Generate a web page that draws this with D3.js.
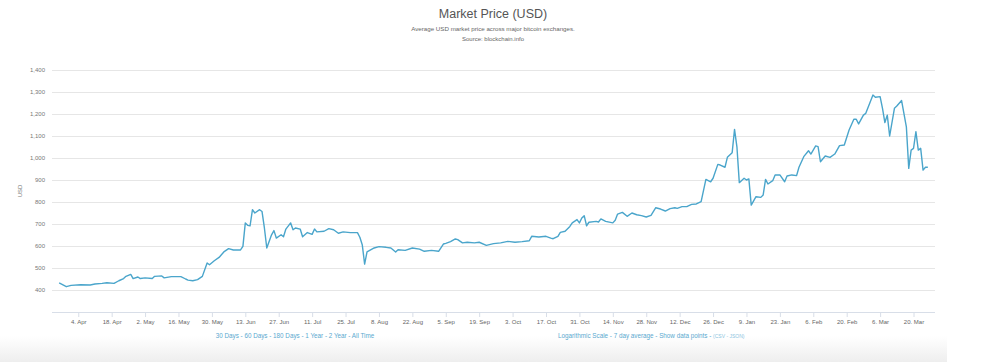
<!DOCTYPE html>
<html>
<head>
<meta charset="utf-8">
<script src="https://cdn.jsdelivr.net/npm/d3@7"></script>
<style>
  body { margin: 0; background: #fff; }
  svg { display: block; font-family: "Liberation Sans", Arial, sans-serif; }
</style>
</head>
<body>
<svg width="992" height="362"></svg>
<script>
/* Market Price (USD) - 1 year view */

// dates and prices
var dates = [
  "2016-03-27","2016-03-30","2016-04-01","2016-04-05","2016-04-09","2016-04-11","2016-04-14","2016-04-16",
  "2016-04-19","2016-04-21","2016-04-23","2016-04-24","2016-04-26","2016-04-27","2016-04-29","2016-04-30",
  "2016-05-02","2016-05-05","2016-05-06","2016-05-09","2016-05-10","2016-05-13","2016-05-17","2016-05-19",
  "2016-05-20","2016-05-22","2016-05-24","2016-05-26","2016-05-28","2016-05-29","2016-05-31","2016-06-02",
  "2016-06-04","2016-06-06","2016-06-08","2016-06-11","2016-06-12","2016-06-13","2016-06-14","2016-06-15",
  "2016-06-16","2016-06-17","2016-06-19","2016-06-20","2016-06-21","2016-06-22","2016-06-24","2016-06-25",
  "2016-06-26","2016-06-28","2016-06-29","2016-06-30","2016-07-02","2016-07-03","2016-07-04","2016-07-06",
  "2016-07-07","2016-07-09","2016-07-11","2016-07-12","2016-07-13","2016-07-16","2016-07-18","2016-07-20",
  "2016-07-22","2016-07-24","2016-07-27","2016-07-30","2016-07-31","2016-08-01","2016-08-02","2016-08-03",
  "2016-08-06","2016-08-08","2016-08-11","2016-08-13","2016-08-15","2016-08-16","2016-08-19","2016-08-22",
  "2016-08-25","2016-08-27","2016-08-30","2016-09-02","2016-09-04","2016-09-05","2016-09-07","2016-09-09",
  "2016-09-10","2016-09-12","2016-09-14","2016-09-17","2016-09-19","2016-09-22","2016-09-25","2016-09-28",
  "2016-10-01","2016-10-04","2016-10-07","2016-10-10","2016-10-11","2016-10-14","2016-10-17","2016-10-19",
  "2016-10-20","2016-10-22","2016-10-23","2016-10-25","2016-10-27","2016-10-28","2016-10-30","2016-10-31",
  "2016-11-01","2016-11-02","2016-11-03","2016-11-04","2016-11-07","2016-11-08","2016-11-09","2016-11-11",
  "2016-11-14","2016-11-15","2016-11-16","2016-11-18","2016-11-20","2016-11-22","2016-11-24","2016-11-26",
  "2016-11-28","2016-11-30","2016-12-02","2016-12-04","2016-12-06","2016-12-08","2016-12-10","2016-12-11",
  "2016-12-13","2016-12-15","2016-12-17","2016-12-19","2016-12-21","2016-12-23","2016-12-25","2016-12-26",
  "2016-12-28","2016-12-29","2016-12-31","2017-01-01","2017-01-03","2017-01-04","2017-01-05","2017-01-06",
  "2017-01-08","2017-01-09","2017-01-10","2017-01-11","2017-01-13","2017-01-15","2017-01-16","2017-01-17",
  "2017-01-18","2017-01-20","2017-01-21","2017-01-23","2017-01-25","2017-01-26","2017-01-28","2017-01-30",
  "2017-01-31","2017-02-02","2017-02-04","2017-02-05","2017-02-07","2017-02-08","2017-02-09","2017-02-11",
  "2017-02-13","2017-02-15","2017-02-17","2017-02-19","2017-02-21","2017-02-23","2017-02-24","2017-02-25",
  "2017-02-27","2017-02-28","2017-03-03","2017-03-04","2017-03-06","2017-03-07","2017-03-08","2017-03-09",
  "2017-03-10","2017-03-12","2017-03-13","2017-03-15","2017-03-17","2017-03-18","2017-03-19","2017-03-20",
  "2017-03-21","2017-03-22","2017-03-23","2017-03-24","2017-03-25","2017-03-26"
];

var prices = [
  432,415,421,424,423,427,430,433,
  430,442,452,462,471,452,459,452,
  455,452,462,464,455,461,461,450,
  445,442,447,462,523,515,533,548,
  573,588,582,582,598,705,694,692,
  765,750,765,757,682,591,651,670,
  636,651,642,677,705,674,682,677,
  642,661,653,677,664,667,679,674,
  658,664,661,661,640,606,518,573,
  591,597,594,591,573,583,580,591,
  586,576,580,576,609,612,620,632,
  629,614,617,614,617,603,611,614,
  621,617,620,624,644,641,644,636,
  633,644,662,667,689,705,720,705,
  727,738,692,708,712,709,723,712,
  705,717,745,753,735,750,742,738,
  732,739,774,768,759,770,774,771,
  779,779,789,791,802,903,892,908,
  971,968,958,1003,1024,1130,1051,888,
  908,900,905,786,824,821,832,903,
  882,897,923,923,892,918,923,920,
  958,1006,1033,1018,1055,1052,983,1009,
  1003,1018,1056,1059,1127,1176,1176,1155,
  1195,1203,1286,1276,1279,1226,1161,1195,
  1100,1226,1236,1261,1142,953,1036,1044,
  1120,1036,1044,945,958,958
];

var yTicks = [400, 500, 600, 700, 800, 900, 1000, 1100, 1200, 1300, 1400];
var leftLinks = ["30 Days", "60 Days", "180 Days", "1 Year", "2 Year", "All Time"];
var rightLinks = ["Logarithmic Scale", "7 day average", "Show data points"];
var fileLinks = ["CSV", "JSON"];

var svg = d3.select("svg"),
    width = +svg.attr("width"),
    height = +svg.attr("height");

var parse = d3.utcParse("%Y-%m-%d");
var data = dates.map(function(d, i) { return { date: parse(d), price: prices[i] }; });

// plot area (note: "top" is taken by window.top)
var plotLeft = 52, plotRight = 935, plotTop = 70, plotBottom = 312;

var x = d3.scaleUtc()
    .domain([parse("2016-03-24"), parse("2017-03-29")])
    .range([plotLeft, plotRight]);

var y = d3.scaleLinear()
    .domain([300, 1400])
    .range([plotBottom, plotTop]);

var lineColor = "#4aa5cb",
    linkColor = "#5aa9cf";

// faint band under the chart
var grad = svg.append("defs").append("linearGradient")
    .attr("id", "band").attr("x1", 0).attr("y1", 0).attr("x2", 0).attr("y2", 1);
grad.append("stop").attr("offset", "0%").attr("stop-color", "#ffffff");
grad.append("stop").attr("offset", "100%").attr("stop-color", "#eeeeee");
svg.append("rect")
    .attr("x", 0).attr("y", 336)
    .attr("width", 947).attr("height", height - 336)
    .attr("fill", "url(#band)");

// titles
svg.append("text")
    .attr("x", 493).attr("y", 17.5)
    .attr("text-anchor", "middle")
    .style("font-size", "12.5px")
    .style("fill", "#555")
    .text("Market Price (USD)");

svg.append("text")
    .attr("x", 493).attr("y", 30.5)
    .attr("text-anchor", "middle")
    .style("font-size", "6.2px")
    .style("fill", "#666")
    .text("Average USD market price across major bitcoin exchanges.");

svg.append("text")
    .attr("x", 493).attr("y", 40.5)
    .attr("text-anchor", "middle")
    .style("font-size", "6px")
    .style("fill", "#666")
    .text("Source: blockchain.info");

// y gridlines and labels
var yAxis = svg.append("g")
    .attr("transform", "translate(" + plotLeft + ",0)")
    .call(d3.axisLeft(y)
        .tickValues(yTicks)
        .tickSize(-(plotRight - plotLeft))
        .tickPadding(7)
        .tickFormat(d3.format(",")));
yAxis.select(".domain").remove();
yAxis.selectAll(".tick line").attr("stroke", "#e6e6e6");
yAxis.selectAll(".tick text")
    .style("font-size", "6px")
    .style("fill", "#777");

svg.append("text")
    .attr("transform", "translate(22," + ((plotTop + plotBottom) / 2) + ") rotate(-90)")
    .attr("text-anchor", "middle")
    .style("font-size", "6px")
    .style("fill", "#777")
    .text("USD");

// x axis, a tick every two weeks
var xTicks = d3.utcDay.range(parse("2016-04-04"), parse("2017-03-29"), 14);
var xAxis = svg.append("g")
    .attr("transform", "translate(0," + plotBottom + ")")
    .call(d3.axisBottom(x)
        .tickValues(xTicks)
        .tickSize(5)
        .tickPadding(3)
        .tickFormat(d3.utcFormat("%-d. %b")));
xAxis.select(".domain").attr("stroke", "#d8dee8").attr("d", "M" + plotLeft + ",0.5H" + plotRight);
xAxis.selectAll(".tick line").attr("stroke", "#d8dee8");
xAxis.selectAll(".tick text")
    .style("font-size", "6px")
    .style("fill", "#666");

// price line
var line = d3.line()
    .x(function(d) { return x(d.date); })
    .y(function(d) { return y(d.price); });

svg.append("path")
    .datum(data)
    .attr("fill", "none")
    .attr("stroke", lineColor)
    .attr("stroke-width", 1.4)
    .attr("stroke-linejoin", "round")
    .attr("d", line);

// links under the chart
svg.append("text")
    .attr("x", 295).attr("y", 337.5)
    .attr("text-anchor", "middle")
    .style("font-size", "6.3px")
    .style("fill", linkColor)
    .text(leftLinks.join(" - "));

var rt = svg.append("text")
    .attr("x", 558).attr("y", 337.5)
    .style("font-size", "6.3px")
    .style("fill", linkColor);
rt.append("tspan").text(rightLinks.join(" - ") + " - ");
rt.append("tspan")
    .style("font-size", "5px")
    .style("fill", "#8cc4de")
    .text("(" + fileLinks.join(" - ") + ")");
</script>
</body>
</html>
